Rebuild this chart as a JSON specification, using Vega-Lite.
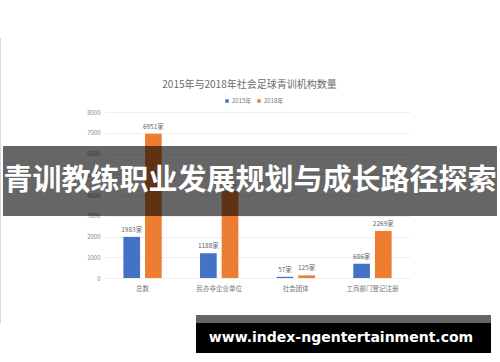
{
  "$schema": "https://vega.github.io/schema/vega-lite/v6.json",
  "width": 305,
  "height": 166,
  "autosize": {"type": "none"},
  "padding": {"left": 105, "top": 112, "right": 90, "bottom": 84},
  "background": "white",
  "config": {"view": {"stroke": null}, "font": "Noto Sans CJK SC"},
  "layer": [
    {
      "data": {"values": [
        {"category": "总数", "year": "2015年", "count": 1983, "label": "1983家"},
        {"category": "总数", "year": "2018年", "count": 6951, "label": "6951家"},
        {"category": "民办非企业单位", "year": "2015年", "count": 1188, "label": "1188家"},
        {"category": "民办非企业单位", "year": "2018年", "count": 4200, "label": null},
        {"category": "社会团体", "year": "2015年", "count": 57, "label": "57家"},
        {"category": "社会团体", "year": "2018年", "count": 125, "label": "125家"},
        {"category": "工商部门登记注册", "year": "2015年", "count": 686, "label": "686家"},
        {"category": "工商部门登记注册", "year": "2018年", "count": 2269, "label": "2269家"}
      ]},
      "encoding": {
        "x": {
          "field": "category", "type": "nominal",
          "sort": ["总数", "民办非企业单位", "社会团体", "工商部门登记注册"],
          "scale": {"paddingInner": 0.5, "paddingOuter": 0.24},
          "axis": {"title": null, "labelAngle": 0, "labelFontSize": 6.5, "labelColor": "#777777", "ticks": false, "domain": false, "labelPadding": 7}
        },
        "xOffset": {"field": "year", "type": "nominal", "scale": {"paddingInner": 0.23}},
        "y": {
          "field": "count", "type": "quantitative",
          "scale": {"domain": [0, 8000], "nice": false},
          "axis": {"title": null, "format": "d", "values": [0, 1000, 2000, 3000, 4000, 5000, 6000, 7000, 8000], "labelFontSize": 6, "labelColor": "#888888", "ticks": false, "domain": false, "labelPadding": 5, "gridColor": "#ebebeb", "gridWidth": 0.8}
        }
      },
      "layer": [
        {
          "mark": {"type": "bar"},
          "encoding": {
            "color": {
              "field": "year", "type": "nominal",
              "scale": {"range": ["#4472C4", "#ED7D31"]},
              "legend": {"orient": "none", "legendX": 119, "legendY": -14, "direction": "horizontal", "title": null, "symbolType": "square", "symbolSize": 12, "symbolStrokeWidth": 0, "labelFontSize": 6, "labelColor": "#777777", "labelOffset": 2, "columnPadding": 4}
            }
          }
        },
        {
          "mark": {"type": "text", "dy": -4, "baseline": "bottom", "fontSize": 6.5, "color": "#666666"},
          "encoding": {"text": {"field": "label"}}
        }
      ]
    },
    {
      "layer": [
        {
          "data": {"values": [{"t": "2015年与2018年社会足球青训机构数量"}]},
          "mark": {"type": "text", "fontSize": 10, "color": "#6b6b6b", "align": "center", "baseline": "middle"},
          "encoding": {
            "x": {"datum": 0.499, "type": "quantitative", "scale": {"domain": [0, 1], "range": [-105, 395]}, "axis": null},
            "y": {"datum": 0.2348, "type": "quantitative", "scale": {"domain": [0, 1], "range": [-112, 250]}, "axis": null},
            "text": {"field": "t"}
          }
        },
        {
          "data": {"values": [{"t": "left edge"}]},
          "mark": {"type": "rule", "color": "#d8d8d8", "strokeWidth": 1},
          "encoding": {
            "x": {"datum": 0.001, "type": "quantitative"},
            "y": {"datum": 0.105, "type": "quantitative"},
            "y2": {"datum": 0.892}
          }
        },
        {
          "data": {"values": [{"t": "banner"}]},
          "mark": {"type": "rect", "color": "#000000", "opacity": 0.6},
          "encoding": {
            "x": {"datum": 0.006, "type": "quantitative"},
            "x2": {"datum": 0.994},
            "y": {"datum": 0.4033, "type": "quantitative"},
            "y2": {"datum": 0.5967}
          }
        },
        {
          "data": {"values": [{"t": "青训教练职业发展规划与成长路径探索"}]},
          "mark": {"type": "text", "fontSize": 29, "fontWeight": "bold", "color": "#ffffff", "align": "center", "baseline": "middle"},
          "encoding": {
            "x": {"datum": 0.5, "type": "quantitative"},
            "y": {"datum": 0.5, "type": "quantitative"},
            "text": {"field": "t"}
          }
        },
        {
          "data": {"values": [{"t": "strip"}]},
          "mark": {"type": "rect", "color": "#666666"},
          "encoding": {
            "x": {"datum": 0.392, "type": "quantitative"},
            "x2": {"datum": 0.982},
            "y": {"datum": 0.870, "type": "quantitative"},
            "y2": {"datum": 0.892}
          }
        },
        {
          "data": {"values": [{"t": "box"}]},
          "mark": {"type": "rect", "color": "#000000"},
          "encoding": {
            "x": {"datum": 0.392, "type": "quantitative"},
            "x2": {"datum": 0.982},
            "y": {"datum": 0.892, "type": "quantitative"},
            "y2": {"datum": 0.975}
          }
        },
        {
          "data": {"values": [{"t": "www.index-ngentertainment.com"}]},
          "mark": {"type": "text", "fontSize": 14, "fontWeight": "bold", "font": "DejaVu Sans", "color": "#ffffff", "align": "center", "baseline": "middle"},
          "encoding": {
            "x": {"datum": 0.682, "type": "quantitative"},
            "y": {"datum": 0.934, "type": "quantitative"},
            "text": {"field": "t"}
          }
        }
      ]
    }
  ],
  "resolve": {"scale": {"x": "independent", "y": "independent", "xOffset": "independent"}}
}
